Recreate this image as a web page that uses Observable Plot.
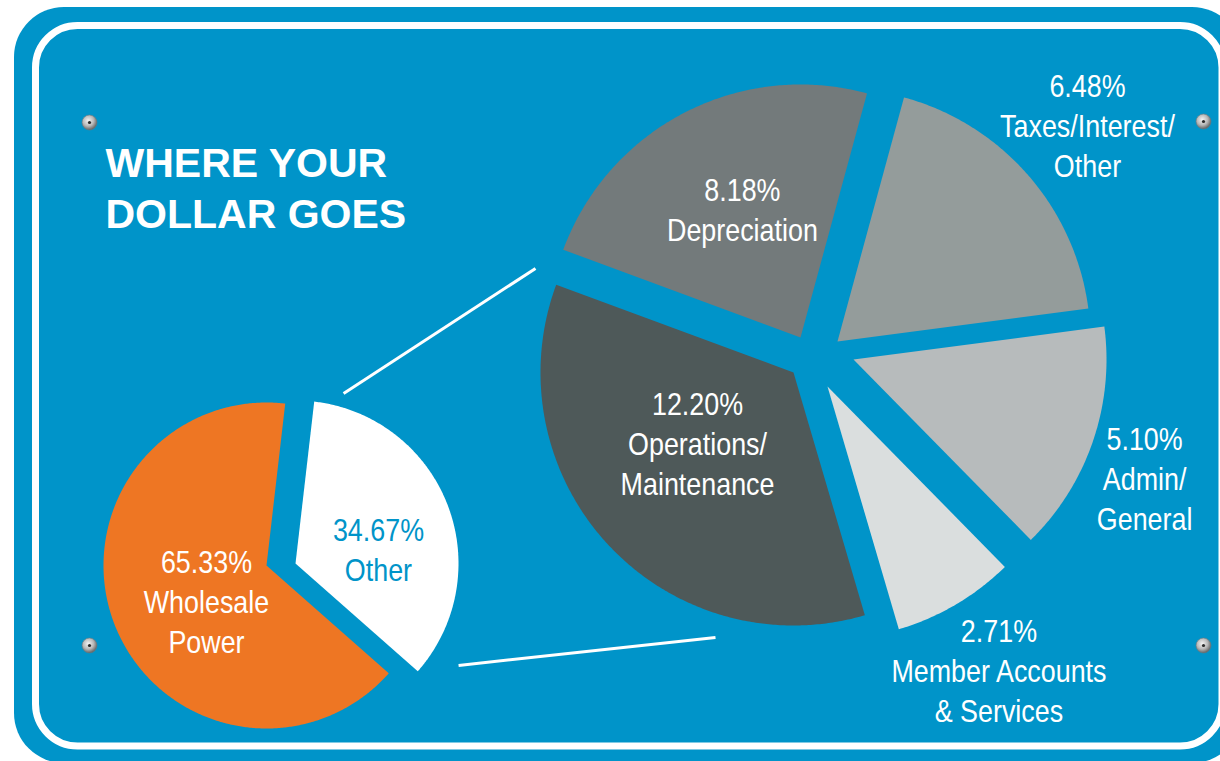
<!DOCTYPE html>
<html>
<head>
<meta charset="utf-8">
<script src="https://cdn.jsdelivr.net/npm/d3@7"></script>
<script src="https://cdn.jsdelivr.net/npm/@observablehq/plot@0.6"></script>
<style>
  html, body { margin: 0; padding: 0; background: #ffffff; }
  #chart { width: 1220px; height: 761px; overflow: hidden; }
</style>
</head>
<body>
<div id="chart"></div>
<script>
// ---------------- DATA ----------------
const titleText = "WHERE YOUR\nDOLLAR GOES";

const mainCategories = ["Other", "Wholesale\nPower"];
const mainValues = [34.67, 65.33];

const otherCategories = [
  "Depreciation",
  "Taxes/Interest/\nOther",
  "Admin/\nGeneral",
  "Member Accounts\n& Services",
  "Operations/\nMaintenance"
];
const otherValues = [8.18, 6.48, 5.10, 2.71, 12.20];

// ---------------- STYLE / LAYOUT ----------------
const W = 1220, H = 761, DEG = Math.PI / 180;
const BLUE = "#0094c9";
const mainFills = ["#ffffff", "#ee7623"];
const mainTextFills = [BLUE, "#ffffff"];
const otherFills = ["#737a7b", "#949c9b", "#b7bbbc", "#dadede", "#4e5959"];
const otherTextFills = ["#ffffff", "#ffffff", "#ffffff", "#ffffff", "#ffffff"];

const leftPie = {
  cx: 266, cy: 565, r: 163, start: 6.6,
  offsets: [[29, -2], [0, 0]],
  label: [[84.7, 32.6], [106.5, -34.7]]          // [radius, angle shift from mid]
};
const rightPie = {
  cx: 813, cy: 354, r: 253, start: 290.3,
  offsets: [[-13, -17], [24, -13], [40, 5], [14, 32], [-20, 18]],
  label: [[113, -3.7], [299.5, 7.7], [337.5, 11.4], [377, 3.4], [156, -9]]
};
// connectors: [radius from exploded "Other" slice apex, angle, radius from big pie centre, angle]
const connectorSpec = [[176.6, 15.8, 291, 287.2], [192.3, 122.0, 299.5, 199.1]];
const screwSpec = [[89, 122], [1203, 121], [89, 645], [1203, 645]];

// ---------------- GEOMETRY ----------------
function buildPie(values, cats, fills, textFills, L) {
  const arcs = d3.pie().sort(null)
    .startAngle(L.start * DEG).endAngle(L.start * DEG + 2 * Math.PI)(values);
  const poly = [], labels = [], apexes = [];
  arcs.forEach((a, i) => {
    const ox = L.cx + L.offsets[i][0], oy = L.cy + L.offsets[i][1];
    apexes.push([ox, oy]);
    const id = cats[i];
    poly.push({id, x: ox, y: oy, fill: fills[i]});
    const n = Math.max(2, Math.ceil((a.endAngle - a.startAngle) / (0.5 * DEG)));
    for (let k = 0; k <= n; k++) {
      const t = a.startAngle + (a.endAngle - a.startAngle) * k / n;
      poly.push({id, x: ox + L.r * Math.sin(t), y: oy - L.r * Math.cos(t), fill: fills[i]});
    }
    const m = (a.startAngle + a.endAngle) / 2 + L.label[i][1] * DEG;
    labels.push({
      text: `${values[i].toFixed(2)}%\n${cats[i]}`,
      x: ox + L.label[i][0] * Math.sin(m),
      y: oy - L.label[i][0] * Math.cos(m),
      fill: textFills[i]
    });
  });
  return {poly, labels, apexes};
}

const left = buildPie(mainValues, mainCategories, mainFills, mainTextFills, leftPie);
const right = buildPie(otherValues, otherCategories, otherFills, otherTextFills, rightPie);

const otherApex = left.apexes[0];
const connectors = connectorSpec.map(([r1, a1, r2, a2]) => ({
  x1: otherApex[0] + r1 * Math.sin(a1 * DEG), y1: otherApex[1] - r1 * Math.cos(a1 * DEG),
  x2: rightPie.cx + r2 * Math.sin(a2 * DEG), y2: rightPie.cy - r2 * Math.cos(a2 * DEG)
}));
const screws = screwSpec.map(([x, y]) => ({x, y}));

const FONT = "'Liberation Sans', Arial, Helvetica, sans-serif";

const svg = Plot.plot({
  width: W, height: H, margin: 0,
  x: {domain: [0, W], range: [0, W], axis: null},
  y: {domain: [0, H], range: [0, H], axis: null},
  color: {type: "identity"},
  style: {background: "transparent", fontFamily: FONT},
  marks: [
    Plot.rect([0], {x1: 14, x2: 1242, y1: 7, y2: 763, rx: 50, ry: 50, fill: BLUE}),
    Plot.rect([0], {x1: 35.5, x2: 1222, y1: 25.5, y2: 746, rx: 42, ry: 42, fill: "none", stroke: "#ffffff", strokeWidth: 7}),
    Plot.line(left.poly.concat(right.poly), {x: "x", y: "y", z: "id", fill: "fill", stroke: "none", curve: "linear-closed"}),
    Plot.link(connectors, {x1: "x1", y1: "y1", x2: "x2", y2: "y2", stroke: "#ffffff", strokeWidth: 3}),
    Plot.dot(screws, {x: "x", y: "y", r: 7.5, fill: "url(#screwGrad)", stroke: "#6b7b82", strokeWidth: 0.6}),
    Plot.dot(screws, {x: "x", y: "y", r: 1.6, fill: "#2a2a2a"}),
    Plot.text([titleText], {x: 105, y: 227, text: d => d, textAnchor: "start", lineAnchor: "bottom",
      fontSize: 41, fontWeight: "bold", lineHeight: 51 / 41, fill: "#ffffff", fontFamily: FONT}),
    Plot.text(left.labels.concat(right.labels), {x: "x", y: "y", text: "text", fill: "fill",
      textAnchor: "middle", lineAnchor: "bottom", fontSize: 32, lineHeight: 1.25,
      fontFamily: FONT})
  ]
});

// gradient for the screws
const defs = document.createElementNS("http://www.w3.org/2000/svg", "defs");
defs.innerHTML = `<radialGradient id="screwGrad" cx="42%" cy="38%" r="65%">
  <stop offset="0" stop-color="#f4f4f4"/><stop offset="0.55" stop-color="#b8b8b8"/><stop offset="1" stop-color="#5a5a5a"/>
</radialGradient>`;
svg.insertBefore(defs, svg.firstChild);

// condensed look for the slice labels (text elements holding a percentage)
Array.from(svg.querySelectorAll("text"))
  .filter(t => t.textContent.includes("%"))
  .forEach(t => {
    const tr = t.getAttribute("transform");
    if (tr && tr.includes("translate")) {
      t.setAttribute("transform", tr + " scale(0.84,1)");
    } else {
      const x = +(t.getAttribute("x") || 0), y = +(t.getAttribute("y") || 0);
      t.removeAttribute("x"); t.removeAttribute("y");
      t.setAttribute("transform", `translate(${x},${y}) scale(0.84,1)`);
    }
  });

document.getElementById("chart").appendChild(svg);
</script>
</body>
</html>
